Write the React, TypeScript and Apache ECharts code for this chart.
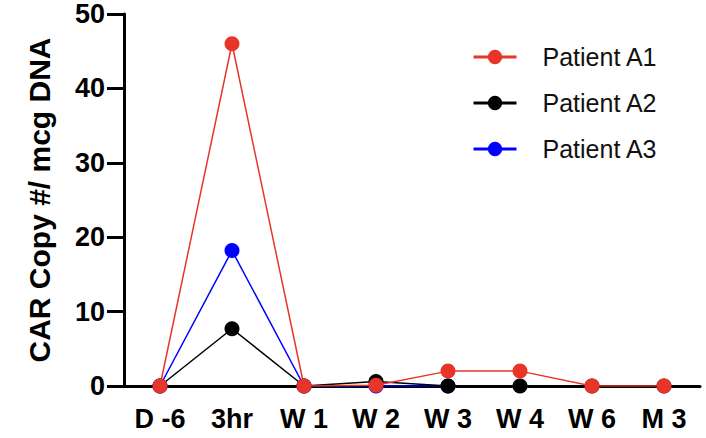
import React, { useEffect, useRef } from "react";
import * as echarts from "echarts";

const categories = ["D -6", "3hr", "W 1", "W 2", "W 3", "W 4", "W 6", "M 3"];
const patientA1 = [0, 46, 0, 0.1, 2, 2, 0, 0];
const patientA2 = [0, 7.7, 0, 0.6, 0, 0, 0, 0];
const patientA3 = [0, 18.2, 0, 0, 0, null, null, null];
const yTicks = { min: 0, max: 50, interval: 10 };

const FONT = "'Liberation Sans', Arial, sans-serif";

export default function App() {
  const ref = useRef<HTMLDivElement>(null);
  useEffect(() => {
    if (!ref.current) return;
    const chart = echarts.init(ref.current, null, { renderer: "svg" });
    const mk = (name: string, data: (number | null)[], color: string, z: number) => ({
      name,
      type: "line",
      data,
      z,
      symbol: "circle",
      symbolSize: 15,
      showSymbol: true,
      connectNulls: false,
      itemStyle: { color },
      lineStyle: { color, width: 1.5 },
      emphasis: { disabled: true },
    });
    chart.setOption({
      animation: false,
      textStyle: { fontFamily: FONT },
      grid: { left: 124, right: 6, top: 14, bottom: 52, containLabel: false },
      legend: {
        orient: "vertical",
        left: 467,
        top: 39,
        itemWidth: 43,
        itemHeight: 18,
        itemGap: 20,
        lineStyle: { width: 3 },
        data: ["Patient A1", "Patient A2", "Patient A3"],
        textStyle: { fontSize: 25, color: "#111", fontFamily: FONT, padding: [0, 0, 0, 21], lineHeight: 26 },
      },
      xAxis: {
        type: "category",
        data: categories,
        boundaryGap: true,
        axisLine: { lineStyle: { color: "#000", width: 3 } },
        axisTick: { alignWithLabel: true, length: 15, lineStyle: { color: "#000", width: 3 } },
        axisLabel: { color: "#000", fontSize: 27, fontWeight: "bold", margin: 19, fontFamily: FONT },
      },
      yAxis: {
        type: "value",
        min: yTicks.min,
        max: yTicks.max,
        interval: yTicks.interval,
        name: "CAR Copy #/ mcg DNA",
        nameLocation: "middle",
        nameGap: 70,
        nameTextStyle: { color: "#000", fontSize: 30, fontWeight: "bold", fontFamily: FONT },
        splitLine: { show: false },
        axisLine: { show: true, lineStyle: { color: "#000", width: 3 } },
        axisTick: { show: true, length: 17, lineStyle: { color: "#000", width: 3 } },
        axisLabel: { color: "#000", fontSize: 27, fontWeight: "bold", margin: 19, fontFamily: FONT },
      },
      series: [
        mk("Patient A1", patientA1, "#e8352a", 5),
        mk("Patient A2", patientA2, "#000000", 4),
        mk("Patient A3", patientA3, "#0000ff", 3),
      ],
    });
    return () => chart.dispose();
  }, []);
  return (
    <div
      ref={ref}
      style={{ position: "fixed", left: 0, top: 0, width: 706, height: 438, background: "#fff" }}
    />
  );
}
